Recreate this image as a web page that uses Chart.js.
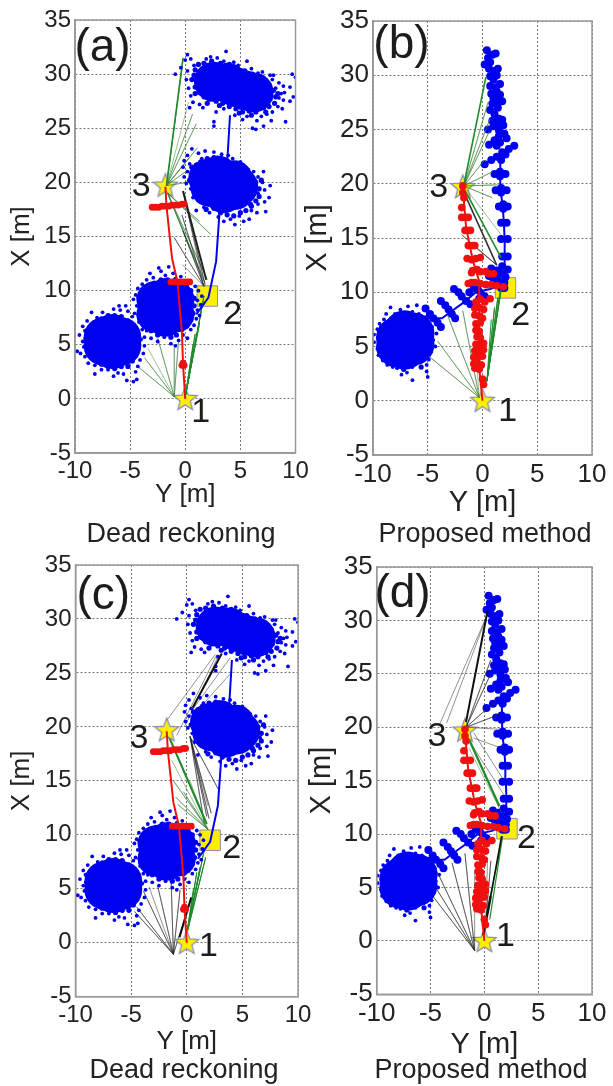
<!DOCTYPE html>
<html>
<head>
<meta charset="utf-8">
<script src="https://cdn.jsdelivr.net/npm/chart.js@4"></script>
<style>
  body { margin: 0; background: #fff; width: 613px; height: 1086px; overflow: hidden; position: relative; }
  canvas { position: absolute; filter: blur(0.6px); }
  .caption {
    position: absolute; transform: translate(-50%, -50%); white-space: nowrap;
    font-family: "Liberation Sans", Arial, sans-serif; font-size: 27px; color: #222; filter: blur(0.5px);
  }
</style>
</head>
<body>
<canvas id="a"></canvas>
<canvas id="b"></canvas>
<canvas id="c"></canvas>
<canvas id="d"></canvas>
<div class="caption" style="left:181px;top:533px">Dead reckoning</div>
<div class="caption" style="left:485px;top:533px;background:#fff;line-height:28px">Proposed method</div>
<div class="caption" style="left:184px;top:1069px">Dead reckoning</div>
<div class="caption" style="left:481px;top:1069px">Proposed method</div>
<script>
// all points are [Y, X] in metres
const xTicks = [-10, -5, 0, 5, 10]
const yTicks = [-5, 0, 5, 10, 15, 20, 25, 30, 35]

const farCore = [[2.6,29.3],[3.8,29.2],[4.6,28.8],[5.4,28.5],[6.2,28.3]]
const farFill = [[.6,29.5],[.9,30.4],[1.2,30.9],[1.7,31],[2.4,31.2],[3.2,31],[4,30.9],[4.7,30.5],[5.4,30.3],[6.1,30],[6.7,29.6],[7.2,29.4],[7.6,29],[8,28.5],[8.2,27.9],[8.1,27.3],[7.6,27],[7.1,26.9],[6.4,26.5],[5.8,26.6],[5.2,26.5],[4.6,26.8],[4,27],[3.4,27.3],[2.8,27.5],[2.2,27.7],[1.7,27.9],[1.3,28.3],[.9,28.8],[.8,29.9],[1.5,29.4],[1.2,28.9],[7.5,28.3],[7.7,27.7],[6.9,29],[8.4,28.2],[7.3,26.5],[6,26.2],[4.9,26.4],[3.1,27.1],[2,27.3],[.9,28.2]]
const farEdge = [[3.7,32.1],[5.6,31.2],[1.9,31.4],[2.3,31.6],[2.9,31.5],[3.5,31.2],[4.4,31.1],[4.8,30.8],[6,30.5],[6.6,30.1],[7,30.2],[7.7,29.9],[7.9,29.5],[8,29.9],[8.5,29.2],[8.9,28.9],[8.2,28.7],[8.7,28.2],[9,28.3],[8.5,27.8],[8.9,27.6],[9.5,27.5],[8.4,27],[8.8,26.8],[9.1,25.6],[7.9,26.5],[7.4,26.3],[7.8,25.7],[6.9,26.1],[6.5,25.7],[6.1,25],[6.4,24.9],[7.1,25.2],[5.6,26.1],[5.2,25.8],[4.5,26.2],[3.5,26.8],[2.6,25.6],[2.6,25.2],[2.8,26.5],[1.6,26.9],[1.3,27.2],[.4,26.9],[.7,27.4],[.5,28],[.3,28.7],[.1,29.5],[-.9,30],[-.4,30.6],[.2,30.3],[.5,31.4],[.2,31.8],[0,31.3],[.8,30.8],[9.7,30],[10,29.7],[9.5,28.8],[9.8,27.9]]

const midCore = [[2,20.4],[2.2,19.5],[3,20.7],[3.1,19.8],[3.5,18.9],[4.4,20.3],[4.5,19.2],[4.9,19.6]]
const midFill = [[.6,20.3],[.8,21],[1,21.6],[1.4,21.9],[2,22.2],[2.6,22.3],[3.2,22.2],[3.8,22],[4.4,21.7],[5,21.3],[5.6,20.9],[6,20.5],[6.4,20],[6.7,19.4],[6.7,18.7],[6.4,18.3],[6,17.8],[5.5,17.4],[5,17.2],[4.4,16.9],[3.8,17],[3.2,17.2],[2.6,17.6],[2.1,18],[1.6,18.4],[1.2,18.9],[.9,19.5],[.4,20.2],[.6,21.4],[1.9,17.5],[6.9,20.2],[5.9,18]]
const midEdge = [[.2,22.5],[-.1,22],[.6,23.1],[1.2,22.7],[1.5,22.2],[1.8,22.9],[2.6,22.8],[2.9,22.3],[3.3,22.6],[3.9,22.5],[4.3,22.2],[5,21.9],[5.3,21.5],[5.7,21.2],[6.2,21],[7.1,21],[6.6,20.5],[7,20],[7.7,19.7],[7.2,19.3],[7.6,18.6],[7.2,18.2],[6.6,18],[7.3,17.3],[6.5,17.2],[6,17.4],[5.8,16.6],[5.3,16.4],[4.9,16.9],[4.5,16.1],[4.1,16.6],[3.5,16.4],[3,16.8],[2.2,17.2],[1.7,17.7],[1.2,18.3],[.7,18.6],[.5,19.4],[.1,19.9],[-.1,20.5],[.2,21],[-.2,21.4],[.4,21.7],[6.6,19],[1,17.4]]

const lowCore = [[-2.8,9.2],[-2.8,7.8],[-1.8,9.5],[-1.8,8.4],[-1.8,7.4],[-.8,9.2],[-.8,7.8]]
const lowFill = [[-4.2,9.4],[-4.1,8.5],[-4.2,7.8],[-3.9,7.3],[-3.6,6.8],[-3.1,6.3],[-2.5,5.9],[-1.9,6],[-1.3,5.7],[-.8,5.9],[-.3,6.4],[.1,6.7],[.5,7.3],[.7,7.9],[.8,8.6],[.8,9.3],[.5,10],[.1,10.4],[-.4,10.7],[-1,10.9],[-1.6,11],[-2.2,11],[-2.8,10.7],[-3.3,10.5],[-3.8,10.1],[-1.6,10.7],[-2.6,10.4],[-1,10.3],[-3.5,9.9]]
const lowEdge = [[-2.4,12.1],[-1.5,12.2],[-3.2,11.6],[-2.2,11.8],[-1.8,11.4],[-1.1,11.6],[-2.9,11.2],[-3.5,11],[-3.9,10.6],[-4.3,10.2],[-4.5,9.6],[-4.7,9.2],[-4.4,8.6],[-4.6,7.9],[-4.2,7.4],[-3.9,6.9],[-3.5,6.3],[-3.7,5.7],[-3.1,5.6],[-2.5,5.3],[-1.9,5.7],[-1.3,5.1],[-.9,4.9],[-.6,5.4],[-.2,5.9],[.2,5.6],[.5,6.4],[.8,6.8],[1,7.4],[1.3,7.7],[1.1,8.2],[1.4,8.7],[1.1,9.1],[1.5,9.5],[1.2,10],[.9,10.4],[.5,10.7],[.1,10.9],[-.4,11.3],[-.9,11.1]]

const startCore = [[-7.4,5.7],[-7.4,4.9],[-6.6,6],[-6.6,5.3],[-6.6,4.6],[-5.8,5.7],[-5.8,4.9]]
const startFill = [[-9,5.6],[-8.9,6.3],[-8.7,4.8],[-8.6,4.2],[-8.2,3.6],[-7.6,3.2],[-7,3],[-6.4,2.8],[-5.8,3],[-5.2,3],[-4.8,3.5],[-4.5,4],[-4.3,4.7],[-4.2,5.4],[-4.4,6.1],[-4.7,6.7],[-5.2,7.2],[-5.8,7.6],[-6.4,7.7],[-7,7.7],[-7.6,7.4],[-8.2,7],[-8.6,6.6],[-8.9,5.1],[-5,3.6]]
const startEdge = [[-8.5,8],[-8,7.5],[-7.5,8],[-6.5,8.3],[-5.9,8.2],[-5.2,8.1],[-6,8.6],[-5.4,8.6],[-4.8,7.6],[-4.2,7.1],[-3.9,6.4],[-4,5.5],[-3.7,4.9],[-3.8,4.2],[-4.1,3.6],[-4.3,3],[-4.5,2.5],[-4.4,1.8],[-4.7,1.6],[-5.3,1.7],[-5.6,2.3],[-6.1,2.4],[-6.5,2.1],[-7,2.7],[-7.6,2.7],[-8.2,2.3],[-8.2,3.1],[-8.8,3.3],[-9.1,3.9],[-9.5,4.2],[-9.8,4.4],[-9.2,4.8],[-9.3,5.3],[-9.6,5.9],[-9.1,6.3],[-9.3,6.7],[-8.9,7.2],[-8.5,6.9]]

const deadBlueLine = [[1,7.8],[2.1,9.35],[2.8,12.7],[3.1,17.1],[3.4,18],[3.85,22.6],[4.06,26.2]]
const deadRedLine = [[0,0],[-.2,3.2],[-.3,6.1],[-.7,10.8],[-1.2,13],[-1.7,17.8],[-1.8,19.6]]
const deadRedBlobs = [[-3,17.7],[-2.7,17.7],[-2.4,17.7],[-2.1,17.8],[-1.8,17.8],[-1.5,17.8],[-1.2,17.9],[-.9,17.9],[-.6,17.9],[-.3,18],[-.1,18],[-1.3,10.8],[-1,10.8],[-.7,10.8],[-.4,10.8],[-.1,10.8],[.2,10.8],[.4,10.8],[-.2,3.3],[-.3,3.1],[-.1,3.1]]

const leftCore = [[-7.8,5.8],[-7.8,5],[-7.1,6.4],[-7.1,5.7],[-7.1,4.8],[-6.3,6.2],[-6.3,5.2]]
const leftFill = [[-9.5,5.8],[-9.4,6.4],[-9.2,5],[-9,4.4],[-8.6,3.9],[-8.1,3.5],[-7.5,3.3],[-6.9,3.2],[-6.3,3.4],[-5.7,3.6],[-5.3,4.1],[-4.9,4.7],[-4.7,5.4],[-4.8,6],[-5,6.6],[-5.4,7.1],[-6,7.5],[-6.6,7.9],[-7.2,8],[-7.8,7.8],[-8.4,7.4],[-8.9,7],[-9.2,6.8],[-5.6,3.1],[-7.2,2.9]]
const leftEdge = [[-8.4,8.6],[-8,8],[-7.5,8.4],[-6.8,8.7],[-6.4,8.2],[-5.8,8],[-6,8.8],[-5.2,7.7],[-4.6,6.8],[-4.2,6.2],[-4.5,5.6],[-4.3,5],[-4.7,4.5],[-4.9,3.8],[-5.1,3.3],[-5.6,3.7],[-5.1,2.7],[-5,2.2],[-6.4,3.1],[-6.9,2.6],[-7.4,2.4],[-6.4,1.9],[-7.8,3],[-8.2,3.1],[-8.7,3.3],[-9.1,3.7],[-9.5,4.2],[-9.6,4.8],[-9.9,5.4],[-9.9,6.1],[-9.6,6.6],[-9.4,7.1],[-9,7.5],[-8.8,8]]

const blueBlobs = [[.2,31],[.5,31.6],[.9,31.9],[1.2,32],[.7,31.2],[.4,32.3],[.6,30.6],[1,30.4],[1.4,30.6],[.7,29.9],[1,29.6],[1.3,30],[.7,29],[1.2,28.9],[1.6,29.2],[.8,28.3],[1.3,28.5],[1.6,28.2],[1,27.9],[.9,27.4],[1.4,27.6],[1.8,27.6],[.7,26.8],[1.1,26.4],[1.4,27],[.5,25],[1,25.3],[1.4,25.5],[1.8,25.9],[1.5,26],[1.9,25.4],[.9,25.8],[1.5,24.9],[.6,23.6],[1.1,24],[1.5,24.4],[2,24.6],[1.6,23.8],[2.2,24.2],[1.3,23.5],[.2,21.8],[.8,22.2],[1.3,22.5],[1.8,22.9],[2.4,23.2],[2.9,23.5],[1.7,22.2],[2.1,22.7],[1.1,20.9],[1.6,21.1],[1.6,20.7],[2.1,20.9],[1.2,19.4],[1.7,19.6],[1.7,19.2],[2.2,19.4],[1.5,17.9],[1.9,18.1],[1.9,17.7],[2.3,17.9],[1.7,16.4],[2.2,16.4],[1.7,14.9],[2.3,14.9],[1.8,13.3],[2.3,13.3],[.8,12.2],[1.3,12],[1.7,11.7],[2.1,11.4],[1,11.2],[1.5,11],[2,10.9],[1.8,12.4],[2.3,12.1],[1.3,11.6],[.6,11.5],[2,10.4],[1.7,10.4],[-2.6,10.3],[-2.2,10],[-1.9,9.6],[-1.5,9.2],[-1.1,8.9],[-3.8,9.2],[-3.4,8.8],[-3.1,8.4],[-2.8,8],[-2.5,7.6],[-5.2,8.5],[-4.8,8],[-4.5,7.6],[-4.1,7.2],[-3.8,6.8],[-.8,10.4],[-.4,10.2],[-.1,9.8],[-1.2,10],[-.3,9.4],[.2,9.6]]
const blueTrack = [[-5,7.6],[-3.7,7.6],[-2.9,8.2],[-1.8,9],[-.6,10],[.7,10.3],[1.7,10.7],[2,11.5],[2.05,13.3],[2,14.9],[1.95,16.4],[1.85,17.9],[1.65,19.4],[1.65,20.9],[1.6,22.8]]
const redBlobs = [[-1.8,19.8],[-1.8,19.2],[-1.7,18.7],[-1.9,17.8],[-1.6,16.9],[-1.9,16.9],[-1.3,16.9],[-1.6,15.7],[-1.4,15.7],[-1.1,15.7],[-1.3,14.3],[-.9,14.3],[-.7,14.3],[-1.4,13.1],[-1,13],[-.6,13.1],[-.2,13.2],[-.9,12],[-.5,12.1],[-.2,11.9],[.3,11.9],[-1,11.8],[.6,11.7],[1,11.7],[-1.3,10.8],[-1,10.9],[-.7,10.9],[-.2,10.8],[.3,10.7],[.8,10.7],[1.3,10.6],[1.9,10.5],[-.6,9.1],[-.2,9.4],[.2,9.1],[.7,9.4],[-.7,8.5],[-.3,8.6],[.1,8.4],[-.7,7.9],[-.3,7.8],[0,7.6],[-.6,7.1],[-.2,7.2],[-.6,6.5],[-.3,6.4],[-.5,5.9],[-.2,5.8],[-.6,5.2],[-.2,5.2],[.1,5.3],[-.7,4.6],[-.3,4.6],[.1,4.7],[-.8,4],[-.4,4],[0,4.1],[-.8,3.4],[-.4,3.4],[-.1,3.3],[-.7,3],[-.3,2.9],[0,2],[.1,1.5]]
const redTrack = [[-1.8,19.6],[-1.5,16],[-.9,13],[-.3,11],[-.3,3],[0,0]]

// beacon positions
const startStar = [[0, 0]]
const turnStar = [[-1.8, 19.7]]
const squareA = [[2, 9.5]]
const squareB = [[2.1, 10.4]]
const squareC = [[2.1, 9.5]]
const squareD = [[2.1, 10.5]]

const GREEN = "rgba(60,130,60,0.5)"
const DARKGREEN = "#1f8a2a"
const GREY = "rgba(40,40,40,0.5)"
const BLUE = "#0000f0"
const RED = "#f01010"

function line(points, color, width) {
    return { data: points, showLine: true, pointRadius: 0, borderColor: color, borderWidth: width }
}
function dots(points, color, radius) {
    return { data: points, showLine: false, pointRadius: radius, pointBorderWidth: 0, pointBackgroundColor: color }
}
// several lines out of the same point
function fan(origin, ends, color, width) {
    const pts = []
    ends.forEach((e) => { pts.push(origin, e) })
    return line(pts, color, width)
}

const starImage = document.createElement("canvas")
starImage.width = 28
starImage.height = 28
const sc = starImage.getContext("2d")
sc.beginPath()
for (let i = 0; i < 10; i++) {
    const r = i % 2 ? 5.4 : 12.5
    const ang = -Math.PI / 2 + i * Math.PI / 5
    sc.lineTo(14 + r * Math.cos(ang), 14.5 + r * Math.sin(ang))
}
sc.closePath()
sc.fillStyle = "#fff000"
sc.fill()
sc.strokeStyle = "#8088b8"
sc.lineWidth = 1.2
sc.stroke()

function stars() {
    return { data: startStar.concat(turnStar), showLine: false, pointStyle: starImage, pointRadius: 14 }
}
function square(pos) {
    return { data: pos, showLine: false, pointStyle: "rect", pointRadius: 14.5, pointBackgroundColor: "#ffee00", pointBorderColor: "#8a8fb0", pointBorderWidth: 1 }
}

const deadClouds = [
    dots(farCore, BLUE, 20), dots(farFill, BLUE, 2.6), dots(farEdge, BLUE, 1.9),
    dots(midCore, BLUE, 19), dots(midFill, BLUE, 2.6), dots(midEdge, BLUE, 1.9),
    dots(lowCore, BLUE, 18), dots(lowFill, BLUE, 2.6), dots(lowEdge, BLUE, 1.9),
    dots(startCore, BLUE, 20), dots(startFill, BLUE, 2.6), dots(startEdge, BLUE, 1.9),
]
const deadRed = [dots(deadRedBlobs, RED, 3.4), line(deadRedLine, RED, 2)]
const proposedRed = [dots(redBlobs, RED, 3.8), line(redTrack, RED, 2)]
const proposedBlue = [
    dots(blueBlobs, BLUE, 4), line(blueTrack, BLUE, 2),
    dots(leftCore, BLUE, 21), dots(leftFill, BLUE, 2.6), dots(leftEdge, BLUE, 1.9),
]

const datasetsA = [
    ...deadRed,
    line(deadBlueLine, BLUE, 2),
    ...deadClouds,
    line([[-.2,19.2],[1.9,11]], "#222", 2),
    fan([-.2,19.2], [[1.8,10.5],[1.6,10.8]], GREY, 1),
    fan([1.7,10.4], [[-1,14.9],[-.2,15.5],[-.3,17],[-.25,12.4]], GREY, 1),
    line([[-1.7,19.7],[-.2,31.5]], DARKGREEN, 1.6),
    fan([-1.7,19.7], [[.66,26.3],[1,25.4],[1.1,23.2],[.4,22.3],[.05,21],[.2,20],[-.3,30.5],[.3,27.4]], GREEN, 1),
    fan([-1.6,19], [[2.3,15.2],[1.3,16.4],[2,11],[1.8,10.7],[1.2,12],[.8,13]], GREEN, 1),
    fan([-1,.2], [[-4.2,2.9],[-3.7,3.8],[-2.5,5.6],[-1,4.7],[-.6,5.5],[-3.4,4.7]], GREEN, 1),
    fan([0,.2], [[1.7,9.5],[1.3,7],[.9,6],[1.6,9],[.7,5]], DARKGREEN, 1),
    stars(), square(squareA),
]
const datasetsB = [
    ...proposedRed,
    line([[-1.6,19],[1.3,12.5]], "#333", 1.6),
    fan([1.3,12.5], [[-1.9,15.3],[-.5,14]], GREY, 1),
    line([[-1.7,19.9],[.3,29.8]], DARKGREEN, 1.6),
    line([[-1.5,19.2],[1.7,13.2]], DARKGREEN, 1.6),
    fan([-1.7,19.8], [[.5,27.5],[.7,26],[.6,24.8],[.2,22.2],[.9,21.1],[1.4,19.9],[.9,18.7],[1.7,15.3]], GREEN, 1),
    fan([-.3,.3], [[-4.1,5.5],[-4.9,4.1],[-3.2,7.9],[-1.8,8.3],[-.5,3]], GREEN, 1),
    fan([.4,1.8], [[1.6,10],[1.4,9.5],[1.1,8.6],[1.7,10.2],[.8,7.5]], DARKGREEN, 1),
    ...proposedBlue,
    stars(), square(squareB),
]
const datasetsC = [
    ...deadRed,
    stars(),
    line([[.54,21.8],[3.15,26.8]], "#111", 2),
    line([[-.65,.5],[.4,4.2]], "#111", 2),
    line([[-1.65,19.2],[1.8,11]], DARKGREEN, 2),
    line(deadBlueLine, BLUE, 2),
    ...deadClouds,
    fan([-1.35,16.9], [[1.9,10.5]], GREEN, 1),
    fan([1.9,10.5], [[-1.2,15],[-1,13.5],[-.8,12.8],[-.3,14],[.3,15]], GREEN, 1),
    fan([.3,19.1], [[1.8,11.7],[2.85,14.2],[2,11.5],[1.6,10.9],[2.2,12],[1.9,12.7]], GREY, 1),
    line([[-1.8,20.6],[2.55,26.7]], GREY, 1),
    line([[-.9,19.2],[2.7,26.7]], GREY, 1),
    line([[.45,21.5],[3.9,26.4]], GREY, 1),
    line([[1.2,21.8],[3.9,24.9]], GREY, 1),
    line([[-.2,20],[2.9,26.7]], GREY, 1),
    fan([-1.2,-1.07], [[-3.9,4.8],[-4.5,3.3],[-4.7,2.9],[-2.6,5.2],[-1.4,5.5],[-.6,4.9],[.4,4.2],[-3.4,5.2]], GREY, 1),
    fan([0,.8], [[1.7,7.9],[1.6,8.7],[1.2,7],[.9,6.5],[.6,5]], DARKGREEN, 1),
    square(squareC),
]
const datasetsD = [
    ...proposedRed,
    line([[-1.7,20.5],[.3,30.9]], "#111", 2),
    line([[-.1,.5],[.6,4.2]], "#111", 2.4),
    line([[.6,4.2],[1.6,9.8]], "#111", 1.6),
    line([[-1.4,18.8],[1.4,12.6]], DARKGREEN, 2.2),
    fan([-1.7,20], [[.6,26.3],[.5,24.8],[1.1,22.5],[1.4,21.2],[1.6,19.8]], GREY, 1),
    line([[-4.1,20.4],[.3,30.6]], GREY, 1),
    line([[-3.5,20.4],[.3,30.6]], GREY, 1),
    line([[-1,19.5],[1.7,15.2]], GREY, 1),
    line([[-1,19],[1.7,18]], GREY, 1),
    line([[-1.2,18.4],[1.8,13.7]], GREY, 1),
    line([[-1.4,18],[1.6,12]], GREEN, 1),
    fan([-.9,-.9], [[-4.4,6.5],[-4.4,4.8],[-4.8,4.2],[-3,7.3],[-1.8,8.2],[-.9,6.5]], GREY, 1),
    fan([1.7,9.8], [[.5,2],[.2,2.5]], DARKGREEN, 1.2),
    fan([.1,1.2], [[.6,7.5],[.3,7.8]], GREY, 1),
    ...proposedBlue,
    stars(), square(squareD),
]

// canvas box, plot rectangle and text placement of each panel, in page pixels
const panels = [
    { id: "a", canvas: [0, 0, 325, 520], plot: [75, 295.5, 20, 453], tickSize: 24, titleSize: 26, titleX: 22, titleY: 495, datasets: datasetsA,
      notes: [["(a)", -7.5, 32.4, 46], ["3", -4, 19.6, 34], ["2", 4.3, 7.8, 34], ["1", 1.4, -1.3, 34]] },
    { id: "b", canvas: [295, 0, 318, 520], plot: [373, 595.7, 18.7, 455], tickSize: 26, titleSize: 29, titleX: 318, titleY: 503, datasets: datasetsB,
      notes: [["(b)", -7.4, 32.8, 46], ["3", -4, 19.6, 34], ["2", 3.5, 7.8, 34], ["1", 2.3, -1, 34]] },
    { id: "c", canvas: [0, 545, 325, 520], plot: [75.5, 298, 562.3, 996.7], tickSize: 24, titleSize: 26, titleX: 22, titleY: 1042, datasets: datasetsC,
      notes: [["(c)", -7.5, 32.1, 46], ["3", -4.3, 18.9, 34], ["2", 4.05, 8.7, 34], ["1", 1.95, -.4, 34]] },
    { id: "d", canvas: [295, 545, 318, 520], plot: [376.7, 596.7, 567, 994.3], tickSize: 26, titleSize: 29, titleX: 322, titleY: 1045, datasets: datasetsD,
      notes: [["(d)", -7.6, 32.4, 46], ["3", -4.4, 19.1, 34], ["2", 3.9, 9.6, 34], ["1", 1.95, .4, 34]] },
]

const panelExtras = {
    id: "panelExtras",
    afterDraw(chart, args, opts) {
        const { ctx, chartArea, scales } = chart
        ctx.save()
        ctx.strokeStyle = "#999"
        ctx.lineWidth = 1.5
        ctx.strokeRect(chartArea.left, chartArea.top, chartArea.width, chartArea.height)
        ctx.fillStyle = "#1c1c1c"
        ctx.textAlign = "center"
        ctx.textBaseline = "middle"
        opts.notes.forEach(([text, y, x, size]) => {
            ctx.font = `${size}px "Liberation Sans", Arial, sans-serif`
            ctx.fillText(text, scales.x.getPixelForValue(y), scales.y.getPixelForValue(x))
        })
        ctx.restore()
    },
}

function drawPanel(p) {
    const [cx, cy, cw, ch] = p.canvas
    const [left, right, top, bottom] = p.plot
    const el = document.getElementById(p.id)
    el.style.left = cx + "px"
    el.style.top = cy + "px"
    const family = '"Liberation Sans", Arial, sans-serif'
    const font = { family, size: p.tickSize }
    const titleFont = { family, size: p.titleSize }
    const grid = { color: "#777", lineWidth: 1, drawTicks: false }
    const border = { color: "#999", width: 1.5, dash: [2, 2] }
    new Chart(el, {
        type: "scatter",
        data: { datasets: p.datasets },
        options: {
            responsive: false,
            animation: false,
            devicePixelRatio: 1,
            events: [],
            layout: { padding: { top: top - cy, right: cx + cw - right, left: 0, bottom: 0 } },
            plugins: { legend: { display: false }, tooltip: { enabled: false }, panelExtras: { notes: p.notes } },
            scales: {
                x: {
                    type: "linear", min: xTicks[0], max: xTicks[xTicks.length - 1],
                    afterBuildTicks: (s) => { s.ticks = xTicks.map((v) => ({ value: v })) },
                    afterFit: (s) => { s.height = cy + ch - bottom },
                    ticks: { font, color: "#222", padding: 4, maxRotation: 0, autoSkip: false },
                    grid, border: { ...border },
                    title: { display: true, text: "Y [m]", font: titleFont, color: "#222", padding: { top: 0, bottom: cy + ch - p.titleY - p.titleSize * 0.6 } },
                },
                y: {
                    type: "linear", min: yTicks[0], max: yTicks[yTicks.length - 1],
                    afterBuildTicks: (s) => { s.ticks = yTicks.map((v) => ({ value: v })) },
                    afterFit: (s) => { s.width = left - cx },
                    ticks: { font, color: "#222", padding: 4, autoSkip: false },
                    grid, border: { ...border },
                    title: { display: true, text: "X [m]", font: titleFont, color: "#222", padding: { top: p.titleX - cx - p.titleSize * 0.6, bottom: 0 } },
                },
            },
        },
        plugins: [panelExtras],
    })
}

panels.forEach((p) => {
    const el = document.getElementById(p.id)
    el.width = p.canvas[2]
    el.height = p.canvas[3]
    drawPanel(p)
})
</script>
</body>
</html>
